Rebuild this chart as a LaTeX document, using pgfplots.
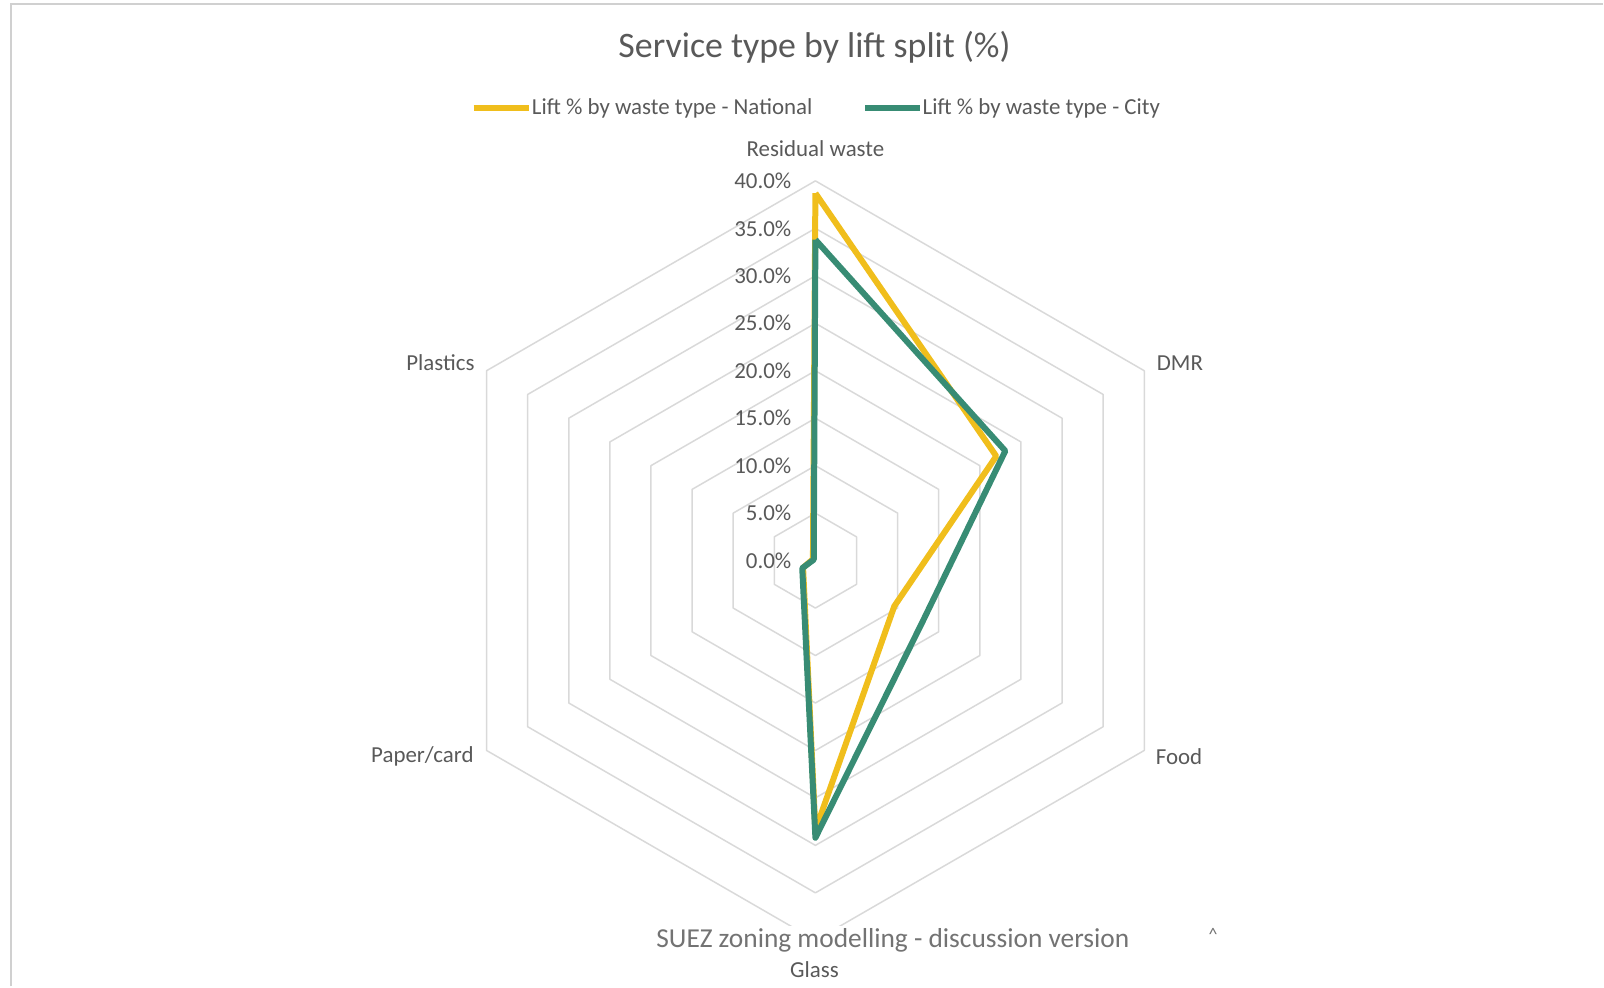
\documentclass[border=0pt]{standalone}
\usepackage{pgfplots}
\pgfplotsset{compat=1.18}
\usepackage{fontspec}
\setmainfont{Carlito}
\definecolor{natyellow}{RGB}{240,190,28}
\definecolor{citygreen}{RGB}{56,140,116}
\definecolor{txtgray}{RGB}{89,89,89}
\definecolor{footgray}{RGB}{115,115,115}
\definecolor{gridgray}{RGB}{217,217,217}
\definecolor{framegray}{RGB}{208,208,208}
\newcommand{\lbl}{\fontsize{11.5}{13}\selectfont}
\begin{document}
\begin{tikzpicture}
\begin{axis}[
  scale only axis,
  x=4.75bp, y=4.75bp,
  xmin=-85.895, xmax=82.947, ymin=-44.842, ymax=59.053,
  hide axis, clip=false,
]
\path (rel axis cs:0,0) rectangle (rel axis cs:1,1);
% frame of the picture
\draw[framegray, line width=1.2bp] (axis cs:-84.74,-44.842) -- (axis cs:-84.74,58.63) -- (axis cs:82.947,58.63);
% hexagonal gridlines
\pgfplotsinvokeforeach{5,10,15,20,25,30,35,40}{
  \addplot[gridgray, line width=0.75bp, line join=round, data cs=polar] coordinates {(90,#1) (30,#1) (-30,#1) (-90,#1) (-150,#1) (150,#1) (90,#1)};
}
% National
\addplot[natyellow, line width=3bp, line join=round, data cs=polar] coordinates {
  (90,38.7) (30,22.0) (-30,9.6) (-90,28.4) (-150,1.5) (150,0.3) (90,38.7)};
% City
\addplot[citygreen, line width=3bp, line join=round, data cs=polar] coordinates {
  (90,33.8) (30,23.1) (-30,13.0) (-90,29.2) (-150,1.6) (150,0.2) (90,33.8)};
% value labels
\begin{scope}[every node/.style={anchor=east, inner sep=0pt, text=txtgray, font=\lbl}]
\node at (axis cs:-2.5,40) {40.0\%};
\node at (axis cs:-2.5,35) {35.0\%};
\node at (axis cs:-2.5,30) {30.0\%};
\node at (axis cs:-2.5,25) {25.0\%};
\node at (axis cs:-2.5,20) {20.0\%};
\node at (axis cs:-2.5,15) {15.0\%};
\node at (axis cs:-2.5,10) {10.0\%};
\node at (axis cs:-2.5,5) {5.0\%};
\node at (axis cs:-2.5,0) {0.0\%};
\end{scope}
% category labels
\begin{scope}[every node/.style={inner sep=0pt, text=txtgray, font=\lbl}]
\node at (axis cs:0,43.37) {Residual waste};
\node at (axis cs:38.4,20.84) {DMR};
\node at (axis cs:38.3,-20.6) {Food};
\node at (axis cs:-41.4,-20.6) {Paper/card};
\node at (axis cs:-39.5,20.84) {Plastics};
\end{scope}
% footer overlay
\node[fill=white, inner sep=1pt, text=footgray, font=\fontsize{13.75}{16}\selectfont] at (axis cs:8.16,-40.0) {SUEZ zoning modelling - discussion version};
\node[inner sep=0pt, text=footgray, font=\fontsize{9}{10}\selectfont] at (axis cs:41.9,-39.4) {\textasciicircum};
\node[inner sep=0pt, text=txtgray, font=\lbl] at (axis cs:-0.1,-43.05) {Glass};
% title
\node[inner sep=0pt, text=txtgray, font=\fontsize{18}{21}\selectfont] at (axis cs:-0.1,54.1) {Service type by lift split (\%)};
% legend
\draw[natyellow, line width=3bp] (axis cs:-36.0,47.68) -- (axis cs:-30.2,47.68);
\node[anchor=west, inner sep=0pt, text=txtgray, font=\lbl] at (axis cs:-29.9,47.68) {Lift \% by waste type - National};
\draw[citygreen, line width=3bp] (axis cs:5.26,47.68) -- (axis cs:11.05,47.68);
\node[anchor=west, inner sep=0pt, text=txtgray, font=\lbl] at (axis cs:11.26,47.68) {Lift \% by waste type - City};
\end{axis}
\end{tikzpicture}
\end{document}
